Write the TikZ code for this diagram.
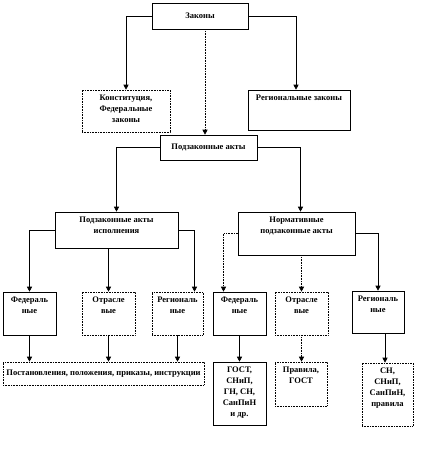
\documentclass[tikz,border=0pt]{standalone}
\usepackage{fontspec}
\setmainfont{Liberation Serif}
\usetikzlibrary{arrows.meta,positioning,calc}

\begin{document}
\begin{tikzpicture}[
  x=1pt, y=-1pt,
  box/.style={draw=black, line width=0.6pt, fill=white, inner sep=2pt,
              font=\bfseries\fontsize{8.5}{11}\selectfont, align=center},
  dbox/.style={box, densely dotted},
  txt/.style={anchor=north, yshift=-3pt, inner sep=2pt,
              font=\bfseries\fontsize{8.5}{11}\selectfont, align=center},
  arrow/.style={-{Triangle[length=5pt,width=5pt]}, line width=0.6pt},
  darrow/.style={arrow, densely dotted},
]
\useasboundingbox (0,0) rectangle (441,458);

%% ---- Level 1: laws ----
\node[box, minimum width=96pt, minimum height=26pt] (zak) at (200,16) {Законы};
\node[dbox, minimum width=88pt, minimum height=42pt,
      label={[txt]north:Конституция,\\Федеральные\\законы}] (konst) at (126,111) {};
\node[box, minimum width=102pt, minimum height=40pt,
      label={[txt]north:Региональные законы}] (reg) at (299,110) {};

\draw[arrow] (zak.west) -| (konst.north);
\draw[arrow] (zak.east) -| ([xshift=-3pt]reg.north);

%% ---- Level 2: by-laws ----
\node[box, minimum width=97pt, minimum height=25pt] (podz) at (208.5,147.5) {Подзаконные акты};

\draw[darrow] ([xshift=5pt]zak.south) -- ([xshift=5pt]zak.south |- podz.north);

%% ---- Level 3: two kinds of by-laws ----
\node[box, minimum width=123pt, minimum height=36pt,
      label={[txt]north:Подзаконные акты\\исполнения}] (isp) at (116.5,230) {};
\node[box, minimum width=117pt, minimum height=43pt,
      label={[txt]north:Нормативные\\подзаконные акты}] (norm) at (296.5,233.5) {};

\draw[arrow] (podz.west) -| (isp.north);
\draw[arrow] (podz.east) -| ([xshift=4pt]norm.north);

%% ---- Level 4: federal / branch / regional ----
\node[box, minimum width=53pt, minimum height=43pt,
      label={[txt]north:Федераль\\ные}] (f1) at (29.5,313.5) {};
\node[dbox, minimum width=53pt, minimum height=43pt,
      label={[txt]north:Отрасле\\вые}] (o1) at (108.5,313.5) {};
\node[dbox, minimum width=51pt, minimum height=43pt,
      label={[txt]north:Региональ\\ные}] (r1) at (177.5,313.5) {};
\node[box, minimum width=53pt, minimum height=43pt,
      label={[txt]north:Федераль\\ные}] (f2) at (239.5,313.5) {};
\node[dbox, minimum width=53pt, minimum height=43pt,
      label={[txt]north:Отрасле\\вые}] (o2) at (301.5,313.5) {};
\node[box, minimum width=52pt, minimum height=42pt,
      label={[txt]north:Региональ\\ные}] (r2) at (378,312) {};

\draw[arrow] (isp.west) -| (f1.north);
\draw[arrow] (isp.south -| o1.north) -- (o1.north);
\draw[arrow] (isp.east) -| ([xshift=17pt]r1.north);
\draw[darrow] (norm.west) -| ([xshift=-16pt]f2.north);
\draw[darrow] (norm.south -| o2.north) -- (o2.north);
\draw[arrow] (norm.east) -| (r2.north);

%% ---- Level 5: documents ----
\node[dbox, minimum width=201pt, minimum height=23pt] (post) at (103.5,373.5)
  {Постановления, положения, приказы, инструкции};
\node[box, minimum width=53pt, minimum height=63pt,
      label={[txt]north:ГОСТ,\\СНиП,\\ГН, СН,\\СанПиН\\и др.}] (gost) at (239.5,393.5) {};
\node[dbox, minimum width=52pt, minimum height=44pt,
      label={[txt]north:Правила,\\ГОСТ}] (prav) at (301,384) {};
\node[dbox, minimum width=51pt, minimum height=63pt,
      label={[txt]north:СН,\\СНиП,\\СанПиН,\\правила}] (sn) at (387.5,394.5) {};

\draw[arrow] (f1.south) -- (f1.south |- post.north);
\draw[arrow] (o1.south) -- (o1.south |- post.north);
\draw[arrow] (r1.south) -- (r1.south |- post.north);
\draw[arrow] (f2.south) -- (gost.north);
\draw[darrow] (o2.south) -- (o2.south |- prav.north);
\draw[arrow] ([xshift=7pt]r2.south) -- ([xshift=7pt]r2.south |- sn.north);

\end{tikzpicture}
\end{document}
